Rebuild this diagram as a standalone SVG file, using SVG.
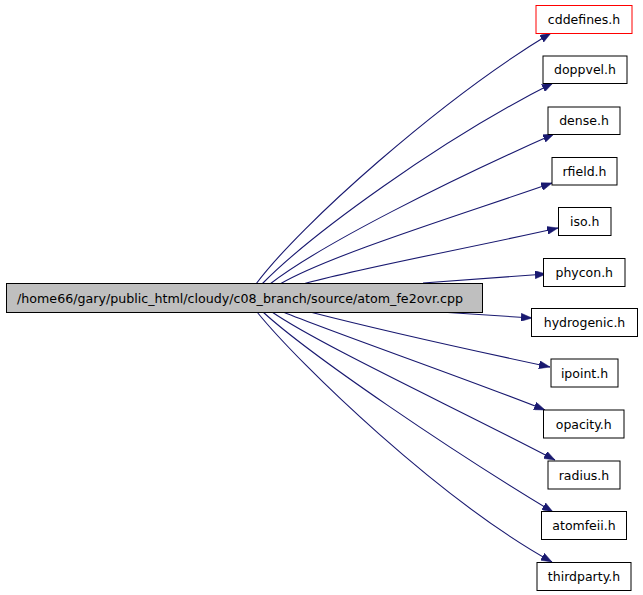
<svg xmlns="http://www.w3.org/2000/svg" width="643" height="595" viewBox="0 0 643 595">
<style>
.node rect{fill:#ffffff;stroke:#000000;stroke-width:1}
.node text{font-family:"DejaVu Sans","Liberation Sans",sans-serif;font-size:12.5px;fill:#000000;text-anchor:middle}
#main rect{fill:#bfbfbf}
#main text{font-size:12.65px}
#n_cddefines rect{stroke:#ff0000}
.edges path{fill:none;stroke:#191970;stroke-width:1.1}
</style>
<defs>
<marker id="arr" viewBox="0 0 11 8" refX="11" refY="4" markerWidth="11" markerHeight="8" markerUnits="userSpaceOnUse" orient="auto">
<path d="M0,0 L11,4 L0,8 z" fill="#191970" stroke="#191970" stroke-width="0.5"/>
</marker>
</defs>
<rect width="643" height="595" fill="#ffffff"/>
<g class="edges">
<path marker-end="url(#arr)" d="M256,284 C300,225 440,100 551,33"/>
<path marker-end="url(#arr)" d="M262,284 C310,235 440,140 553,83"/>
<path marker-end="url(#arr)" d="M270,284 C320,245 450,180 554,134"/>
<path marker-end="url(#arr)" d="M280,284 C330,255 460,215 552,183"/>
<path marker-end="url(#arr)" d="M303,284 C360,268 470,248 558,228"/>
<path marker-end="url(#arr)" d="M423,283 C460,280 500,277 546,274"/>
<path marker-end="url(#arr)" d="M440,312 C470,314 500,316 532,318"/>
<path marker-end="url(#arr)" d="M310,312 C380,330 470,350 550,367"/>
<path marker-end="url(#arr)" d="M283,312 C340,335 470,380 545,410"/>
<path marker-end="url(#arr)" d="M272,312 C320,345 460,410 555,460"/>
<path marker-end="url(#arr)" d="M263,312 C310,355 450,450 553,512"/>
<path marker-end="url(#arr)" d="M257,312 C300,365 440,500 552,562"/>
</g>
<g id="main" class="node"><rect x="6.5" y="283.5" width="476" height="29"/><text x="240" y="302.5">/home66/gary/public_html/cloudy/c08_branch/source/atom_fe2ovr.cpp</text></g>
<g id="n_cddefines" class="node"><rect x="536" y="5.5" width="96" height="28"/><text x="584" y="24">cddefines.h</text></g>
<g id="n_doppvel" class="node"><rect x="543" y="56" width="84" height="27.5"/><text x="585" y="74">doppvel.h</text></g>
<g id="n_dense" class="node"><rect x="548" y="107" width="72" height="27.5"/><text x="584" y="125">dense.h</text></g>
<g id="n_rfield" class="node"><rect x="552" y="157.5" width="65" height="27.5"/><text x="584.5" y="176">rfield.h</text></g>
<g id="n_iso" class="node"><rect x="558.5" y="207.5" width="52.5" height="28"/><text x="584.75" y="226">iso.h</text></g>
<g id="n_phycon" class="node"><rect x="543.5" y="258.5" width="81.5" height="28"/><text x="584.25" y="277">phycon.h</text></g>
<g id="n_hydrogenic" class="node"><rect x="531.5" y="308.5" width="106" height="28"/><text x="584.5" y="327">hydrogenic.h</text></g>
<g id="n_ipoint" class="node"><rect x="551" y="359" width="67" height="28"/><text x="584.5" y="377.5">ipoint.h</text></g>
<g id="n_opacity" class="node"><rect x="543.5" y="410" width="80.5" height="28"/><text x="583.75" y="428.5">opacity.h</text></g>
<g id="n_radius" class="node"><rect x="548" y="461" width="72" height="28"/><text x="584" y="479.5">radius.h</text></g>
<g id="n_atomfeii" class="node"><rect x="541.5" y="511.5" width="85" height="28"/><text x="584" y="530">atomfeii.h</text></g>
<g id="n_thirdparty" class="node"><rect x="537" y="562.5" width="94" height="28"/><text x="584" y="581">thirdparty.h</text></g>
</svg>
